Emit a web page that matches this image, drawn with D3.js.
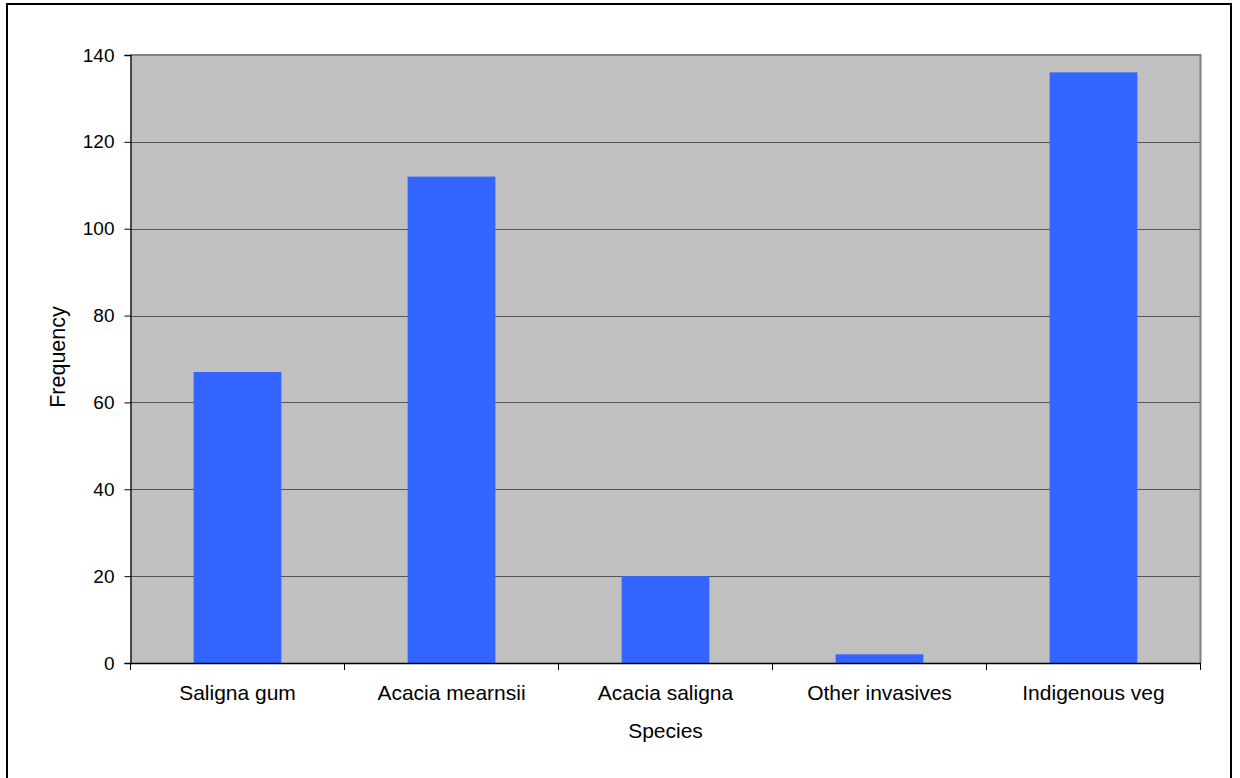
<!DOCTYPE html>
<html><head><meta charset="utf-8">
<script src="https://cdn.jsdelivr.net/npm/d3@7"></script>
<style>html,body{margin:0;padding:0;background:#fff;}svg{display:block;font-family:"Liberation Sans",Arial,sans-serif;}</style>
</head><body>
<svg id="chart" width="1240" height="778"></svg>
<script>
const categories = ["Saligna gum","Acacia mearnsii","Acacia saligna","Other invasives","Indigenous veg"];
const frequency = [67,112,20,2,136];
const yTicks = [0,20,40,60,80,100,120,140];

const svg = d3.select("#chart");
const L=130.5, R=1200.5, T=55, B=663;
const FONT = "Liberation Sans, Arial, sans-serif";

// outer frame
svg.append("rect").attr("x",7).attr("y",4).attr("width",1224).attr("height",790)
  .attr("fill","#fff").attr("stroke","#000").attr("stroke-width",2);

const x = d3.scaleBand().domain(categories).range([L,R]);
const y = d3.scaleLinear().domain([0,140]).range([B,T]);

svg.append("rect").attr("x",L).attr("y",T).attr("width",R-L).attr("height",B-T).attr("fill","#c0c0c0");

// gridlines
svg.append("g").selectAll("line").data(yTicks.filter(d=>d>0&&d<140)).join("line")
  .attr("x1",L).attr("x2",R).attr("y1",d=>Math.round(y(d))+0.5).attr("y2",d=>Math.round(y(d))+0.5)
  .attr("stroke","#555").attr("stroke-width",1);

// top & right border
svg.append("path").attr("d",`M${L},${T}H${R}V${B}`).attr("fill","none").attr("stroke","#808080").attr("stroke-width",2);

// bars
const bw = x.bandwidth()*0.41;
svg.append("g").selectAll("rect").data(categories).join("rect")
  .attr("x",(d)=>x(d)+x.bandwidth()/2-bw/2)
  .attr("width",bw)
  .attr("y",(d,i)=>y(frequency[i]))
  .attr("height",(d,i)=>B-y(frequency[i]))
  .attr("fill","#3366ff");

// y axis
const yAxis = svg.append("g").attr("transform",`translate(${L},0)`)
  .call(d3.axisLeft(y).tickValues(yTicks).tickSize(6).tickPadding(10).tickFormat(d3.format("d")));
yAxis.attr("font-size",19).attr("font-family",FONT);
yAxis.select(".domain").attr("stroke","#000").attr("stroke-width",1.3);
yAxis.selectAll(".tick line").attr("stroke","#000");
yAxis.selectAll("text").attr("fill","#000");

// x axis
const xAxis = svg.append("g").attr("transform",`translate(0,${B})`)
  .call(d3.axisBottom(x).tickSize(0).tickPadding(22));
xAxis.attr("font-size",21).attr("font-family",FONT);
xAxis.select(".domain").attr("stroke","#000").attr("stroke-width",1.3);
xAxis.selectAll("text").attr("fill","#000");
// boundary ticks
const bounds = categories.map(c=>x(c)).concat([R]);
svg.append("g").selectAll("line").data(bounds).join("line")
  .attr("x1",d=>d).attr("x2",d=>d).attr("y1",B).attr("y2",B+7).attr("stroke","#000");

svg.append("text").attr("x",(L+R)/2).attr("y",738).attr("text-anchor","middle")
  .attr("font-size",21).attr("font-family",FONT).text("Species");
svg.append("text").attr("transform","translate(65,357) rotate(-90)").attr("text-anchor","middle")
  .attr("font-size",21.5).attr("font-family",FONT).text("Frequency");
</script>
</body></html>
